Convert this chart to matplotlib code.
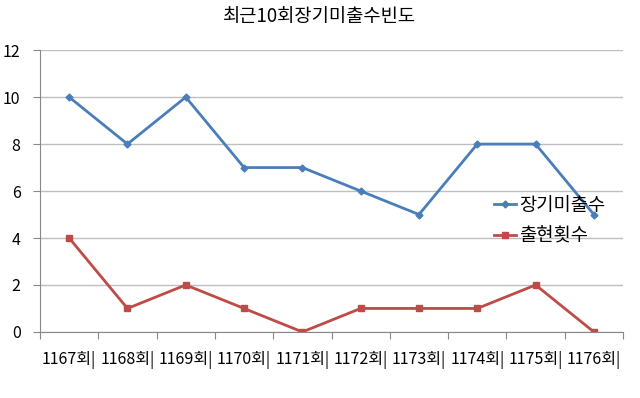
import matplotlib
matplotlib.use("Agg")
import matplotlib.pyplot as plt
from matplotlib.ticker import FixedLocator, NullFormatter

plt.rcParams['font.family'] = ['Noto Sans CJK KR', 'DejaVu Sans']

# data
rounds = ['1167회|', '1168회|', '1169회|', '1170회|', '1171회|',
          '1172회|', '1173회|', '1174회|', '1175회|', '1176회|']
long_missing = [10, 8, 10, 7, 7, 6, 5, 8, 8, 5]
appear_count = [4, 1, 2, 1, 0, 1, 1, 1, 2, 0]

fig = plt.figure(figsize=(6.4, 3.98), dpi=100)
ax = fig.add_axes([0.0625, 0.166, 0.911, 0.708])

x = list(range(len(rounds)))
ax.plot(x, long_missing, color='#4a7ebb', lw=2, marker='D', ms=3.5, label='장기미출수')
ax.plot(x, appear_count, color='#be4b48', lw=2, marker='s', ms=5, label='출현횟수')

ax.set_ylim(0, 12)
ax.set_yticks(range(0, 13, 2))
ax.set_xlim(-0.5, len(rounds) - 0.5)
ax.xaxis.set_major_locator(FixedLocator([i - 0.5 for i in range(len(rounds) + 1)]))
ax.xaxis.set_major_formatter(NullFormatter())
ax.xaxis.set_minor_locator(FixedLocator(x))
ax.set_xticklabels(rounds, minor=True)
ax.tick_params(axis='x', which='major', length=5, color='#888888')
ax.tick_params(axis='x', which='minor', length=0, pad=14, labelsize=11.5)
ax.tick_params(axis='y', length=5, color='#888888', pad=9, labelsize=11.5)

ax.grid(axis='y', color='#bfbfbf', lw=1)
ax.set_axisbelow(True)
for s in ['top', 'right']:
    ax.spines[s].set_visible(False)
ax.spines['left'].set_color('#888888')
ax.spines['bottom'].set_color('#888888')

fig.suptitle('최근10회장기미출수빈도', x=0.5, y=0.985, fontsize=13.5)

ax.legend(loc='center left', bbox_to_anchor=(0.745, 0.445), bbox_transform=fig.transFigure,
          frameon=False, fontsize=13.5, handlelength=1.2, handletextpad=0.15, labelspacing=0.55)

fig.savefig('out.png', dpi=100)
